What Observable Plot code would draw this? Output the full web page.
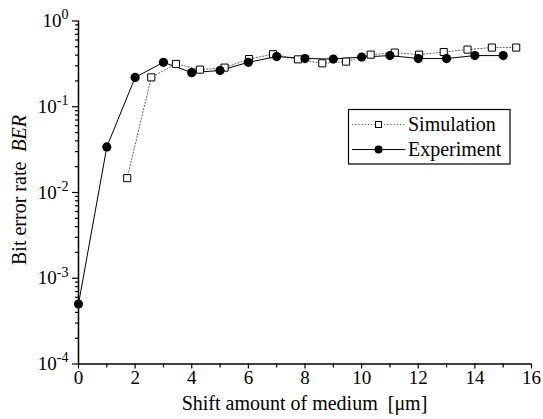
<!DOCTYPE html>
<html>
<head>
<meta charset="utf-8">
<script src="https://cdn.jsdelivr.net/npm/d3@7"></script>
<script src="https://cdn.jsdelivr.net/npm/@observablehq/plot@0.6"></script>
<style>
  html, body { margin: 0; padding: 0; background: white; }
  #chart { width: 543px; height: 419px; }
  #chart svg, #chart svg text { font-family: "Liberation Serif", "Times New Roman", serif; }
</style>
</head>
<body>
<div id="chart"></div>
<script>
// ---- data ----
const expX = [0, 1, 2, 3, 4, 5, 6, 7, 8, 9, 10, 11, 12, 13, 14, 15];
const expY = [5e-4, 0.034, 0.22, 0.33, 0.25, 0.265, 0.33, 0.385, 0.365, 0.36, 0.38, 0.395, 0.365, 0.365, 0.395, 0.395];
const simX = [1.72, 2.57, 3.44, 4.29, 5.16, 6.02, 6.87, 7.75, 8.61, 9.45, 10.32, 11.17, 12.03, 12.9, 13.74, 14.6, 15.46];
const simY = [0.0147, 0.22, 0.316, 0.271, 0.286, 0.36, 0.41, 0.357, 0.321, 0.336, 0.405, 0.428, 0.405, 0.435, 0.464, 0.49, 0.49];
const xMajorTicks = [0, 2, 4, 6, 8, 10, 12, 14, 16];
const xMinorTicks = [1, 3, 5, 7, 9, 11, 13, 15];
const yMajorTicks = [1e-4, 1e-3, 1e-2, 1e-1, 1];
const yMinorMultipliers = [2, 3, 4, 5, 6, 7, 8, 9];
const seriesNames = ["Simulation", "Experiment"];
const xTitle = "Shift amount of medium  [\u03bcm]";
const yTitleMain = "Bit error rate\u00a0\u00a0";
const yTitleItalic = "BER";

const expData = expX.map((x, i) => ({x, y: expY[i]}));
const simData = simX.map((x, i) => ({x, y: simY[i]}));
const yMinorTicks = yMajorTicks.slice(0, -1).flatMap(d => yMinorMultipliers.map(m => d * m));

const W = 543, H = 419;
const mL = 78, mR = 12, mT = 20.5, mB = 55.5;
const font = "Liberation Serif, Times New Roman, serif";

const plot = Plot.plot({
  width: W, height: H,
  marginLeft: mL, marginRight: mR, marginTop: mT, marginBottom: mB,
  style: {fontFamily: font, fontSize: "19px", color: "black", background: "white"},
  x: {domain: [0, 16]},
  y: {type: "log", domain: [1e-4, 1]},
  marks: [
    Plot.axisX({ticks: xMajorTicks, tickSize: 5, tickPadding: 1, label: null, strokeWidth: 1.2}),
    Plot.axisX({ticks: xMinorTicks, tickSize: 4, tickFormat: () => "", label: null, strokeWidth: 1.2}),
    Plot.axisY({ticks: yMajorTicks, tickSize: 6, tickPadding: 4, label: null, strokeWidth: 1.2,
      tickFormat: d => "10^" + Math.round(Math.log10(d))}),
    Plot.axisY({ticks: yMinorTicks, tickSize: 3, tickFormat: () => "", label: null, strokeWidth: 1.2}),
    Plot.ruleX([0], {stroke: "black", strokeWidth: 1.5}),
    Plot.ruleY([1e-4], {stroke: "black", strokeWidth: 1.5}),
    Plot.line(simData, {x: "x", y: "y", stroke: "#666", strokeWidth: 1, strokeDasharray: "1.2,2"}),
    Plot.line(expData, {x: "x", y: "y", stroke: "black", strokeWidth: 1}),
    Plot.dot(simData, {x: "x", y: "y", symbol: "square", r: 4, fill: "white", stroke: "black", strokeWidth: 1}),
    Plot.dot(expData, {x: "x", y: "y", r: 4.6, fill: "black", stroke: "none"})
  ]
});

plot.setAttribute("font-family", font);
plot.style.fontFamily = font;
const svg = d3.select(plot);

// superscript exponents on y tick labels
svg.selectAll('g[aria-label="y-axis tick label"] text').each(function() {
  const t = d3.select(this);
  const s = t.text();
  if (!s.startsWith("10^")) return;
  const e = s.slice(3);
  t.text("10");
  t.append("tspan").attr("dy", "-0.55em").attr("font-size", "14px").text(e);
});

// axis titles
svg.append("text")
  .attr("x", (mL + (W - mR)) / 2).attr("y", 410)
  .attr("text-anchor", "middle")
  .attr("font-size", "20px").attr("fill", "black")
  .text(xTitle);

const yt = svg.append("text")
  .attr("transform", "translate(26,190) rotate(-90)")
  .attr("text-anchor", "middle")
  .attr("font-size", "20px").attr("fill", "black");
yt.append("tspan").text(yTitleMain);
yt.append("tspan").attr("font-style", "italic").text(yTitleItalic);

// legend
const lg = svg.append("g").attr("text-anchor", "start");
lg.append("rect").attr("x", 348.5).attr("y", 109.5).attr("width", 161.5).attr("height", 54.5)
  .attr("fill", "white").attr("stroke", "black").attr("stroke-width", 1.2);
const rows = [
  {name: seriesNames[0], cy: 124.5, dash: "1.2,2", stroke: "#666"},
  {name: seriesNames[1], cy: 149.5, dash: null, stroke: "black"}
];
rows.forEach((r, i) => {
  const ln = lg.append("line").attr("x1", 352).attr("x2", 405).attr("y1", r.cy).attr("y2", r.cy)
    .attr("stroke", r.stroke).attr("stroke-width", 1);
  if (r.dash) ln.attr("stroke-dasharray", r.dash);
  if (i === 0) {
    lg.append("rect").attr("x", 375.5).attr("y", r.cy - 3).attr("width", 6).attr("height", 6)
      .attr("fill", "white").attr("stroke", "black").attr("stroke-width", 1);
  } else {
    lg.append("circle").attr("cx", 378.5).attr("cy", r.cy).attr("r", 4).attr("fill", "black");
  }
  lg.append("text").attr("x", 408).attr("y", r.cy + 6.5).attr("text-anchor", "start")
    .attr("font-size", "20px").attr("fill", "black")
    .text(r.name);
});

svg.selectAll("text").attr("font-family", font);

document.getElementById("chart").appendChild(plot);
</script>
</body>
</html>
